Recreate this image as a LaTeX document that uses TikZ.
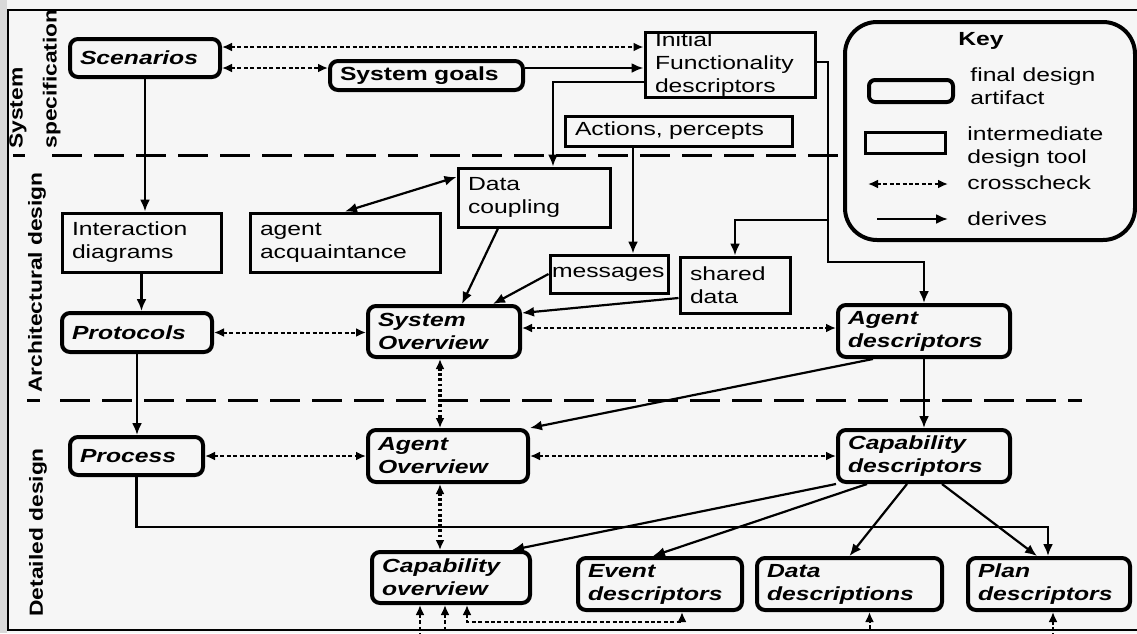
\documentclass[tikz,border=0pt]{standalone}
\usepackage{fontspec}
\setmainfont{Liberation Sans}[FakeStretch=1.3]
\newfontfamily\phasefont{Liberation Sans}[FakeStretch=1.2]
\usetikzlibrary{arrows.meta}
\newcommand\figfont{\fontsize{9.5}{11.5}\selectfont}

\begin{document}
\begin{tikzpicture}[x=0.5pt,y=-0.5pt,
  every node/.style={font=\figfont},
  box/.style={draw, line width=1.5pt, inner xsep=5pt, inner ysep=1pt, align=left},
  final/.style={box, line width=2pt, rounded corners=4pt, font=\figfont\bfseries\itshape},
  derive/.style={line width=1.1pt, -{Latex[length=6pt,width=5pt]}},
  cross/.style={line width=1pt, dash pattern=on 2pt off 1.2pt,
    {Latex[length=5pt,width=4.5pt]}-{Latex[length=5pt,width=4.5pt]}},
  vcross/.style={cross, line width=1.8pt, dash pattern=on 1.4pt off 1.2pt},
  phase/.style={font=\phasefont\fontsize{9.5}{17}\selectfont\bfseries, rotate=90, anchor=west, inner sep=0pt, align=left},
  sep/.style={line width=1.5pt, dash pattern=on 15pt off 6pt}]
\useasboundingbox (0,0) rectangle (1137,633);
\fill[gray!7] (0,0) rectangle (1137,633);
\fill[gray!30] (0,0) rectangle (7,633);
\draw[line width=1pt] (1145,10) -- (8,10) -- (8,630) -- (1145,630);

% phases
\node[phase] (ph1) at (35,149) {System\\specification};
\node[phase] (ph2) at (37,393) {Architectural design};
\node[phase] (ph3) at (38,617) {Detailed design};
\draw[line width=1.5pt] (13,155) -- (25,155);
\draw[line width=1.5pt] (27,400) -- (40,400);
\coordinate (s1) at (52,155);
\coordinate (s2) at (60,400);
\coordinate (s3) at (1082,400);

% key
\node[draw, line width=2pt, rounded corners=16pt, minimum width=145pt, minimum height=109pt] (key) at (990,131) {};
\node[font=\figfont\bfseries] (keyt) at (981,41) {Key};
\node[draw, line width=2pt, rounded corners=3pt, minimum width=42pt, minimum height=11pt] (kfin) at (911,91) {};
\node[anchor=west, align=left, inner sep=0pt] (kfint) at (970,86) {final design\\artifact};
\node[draw, line width=1.5pt, minimum width=40pt, minimum height=10.5pt] (kint) at (905,142.5) {};
\node[anchor=west, align=left, inner sep=0pt] (kintt) at (967,147) {intermediate\\design tool};
\node[anchor=west, inner sep=0pt] (kcrosst) at (967,183) {crosscheck};
\node[anchor=west, inner sep=0pt] (kdert) at (967,219) {derives};
\coordinate (kc1) at (868,184);
\coordinate (kc2) at (948,184);
\coordinate (kd1) at (877,219);
\coordinate (kd2) at (948,219);
\draw[cross] (kc1) -- (kc2);
\draw[derive] (kd1) -- (kd2);

\draw[sep] (s1) -- (s1 -| key.west);
\draw[sep] (s2) -- (s3);

% system specification
\node[final, text width=65pt, minimum height=19pt] (scen) at (145,58) {Scenarios};
\node[final, font=\figfont\bfseries, text width=86.5pt, minimum height=14.5pt] (goals) at (426.5,75.5) {System goals};
\node[box, text width=75pt, minimum height=32.5pt, inner ysep=0pt] (ifd) at (730,64.5) {Initial\\Functionality\\descriptors};
\node[box, text width=103.5pt, minimum height=15pt] (act) at (678.5,131) {Actions, percepts};

% architectural design
\node[box, text width=69.5pt, minimum height=29.5pt] (inter) at (141.5,242.5) {Interaction\\diagrams};
\node[box, text width=85pt, minimum height=29.5pt] (acq) at (345,242.5) {agent\\acquaintance};
\node[box, text width=66pt, minimum height=29.5pt] (coup) at (534,197.5) {Data\\coupling};
\node[box, inner xsep=1pt, text width=57pt, minimum height=19pt] (msg) at (609,274) {messages};
\node[box, text width=45pt, minimum height=28pt] (shd) at (735,285) {shared\\data};
\node[final, text width=65pt, minimum height=19.5pt] (prot) at (137,332.5) {Protocols};
\node[final, text width=66pt, minimum height=25.5pt] (sysov) at (444,331.5) {System\\Overview};
\node[final, text width=76pt, minimum height=26pt] (agdesc) at (924,331) {Agent\\descriptors};

% detailed design
\node[final, text width=56.5pt, minimum height=19pt] (proc) at (136.5,456) {Process};
\node[final, text width=70pt, minimum height=26pt] (agov) at (448,456) {Agent\\Overview};
\node[final, text width=76pt, minimum height=26pt] (capdesc) at (924,456) {Capability\\descriptors};
\node[final, text width=69pt, minimum height=25.5pt] (capov) at (451,577.5) {Capability\\overview};
\node[final, text width=72pt, minimum height=26pt] (evdesc) at (660,584) {Event\\descriptors};
\node[final, text width=82.5pt, minimum height=26pt] (datadesc) at (849.5,584) {Data\\descriptions};
\node[final, text width=71pt, minimum height=26pt] (plandesc) at (1049,584) {Plan\\descriptors};

\coordinate (fork) at (828,220);
\coordinate (elbow) at (828,262);
\coordinate (low) at (1048,527);
\coordinate (c1) at (575,622);
\coordinate (c2) at (650,630);
\coordinate (c3) at (700,642);

% derives
\draw[derive] (scen.south) -- (scen.south |- inter.north);
\draw[derive] ([yshift=3.75pt]goals.east) -- ([yshift=3.75pt]goals.east -| ifd.west);
\draw[derive] ([yshift=-8.75pt]ifd.west) -| ([xshift=9.5pt]coup.north);
\draw[derive] ([yshift=1.25pt]ifd.east) -| (elbow) -| (agdesc.north);
\draw[derive] (fork) -| (shd.north);
\draw[derive] ([xshift=12pt]msg.north |- act.south) -- ([xshift=12pt]msg.north);
\draw[derive] ([xshift=-18pt]coup.south) -- ([xshift=9pt]sysov.north);
\draw[derive] (msg.west) -- ([xshift=24.5pt]sysov.north);
\draw[derive] ([yshift=-6.5pt]shd.west) -- ([yshift=9.25pt]sysov.east);
\draw[derive, {Latex[length=6pt,width=5pt]}-{Latex[length=6pt,width=5pt]}] (acq.north) -- ([yshift=10.25pt]coup.west);
\draw[derive] (inter.south) -- (inter.south |- prot.north);
\draw[derive] (prot.south) -- (prot.south |- proc.north);
\draw[derive] (agdesc.south) -- (capdesc.north);
\draw[derive] ([xshift=-25.5pt]agdesc.south) -- (agov.north east);
\draw[derive] (capdesc.south west) -- ([xshift=30.5pt]capov.north);
\draw[derive] ([xshift=-28.5pt]capdesc.south) -- ([xshift=-3.5pt]evdesc.north);
\draw[derive] ([xshift=-8.5pt]capdesc.south) -- (datadesc.north);
\draw[derive] ([xshift=9pt]capdesc.south) -- ([xshift=-6pt]plandesc.north);
\draw[derive] (proc.south) |- (low) -- (low |- plandesc.north);

% crosschecks
\draw[cross] ([yshift=5.5pt]scen.east) -- ([yshift=5.5pt]scen.east -| ifd.west);
\draw[cross] ([yshift=-5pt]scen.east) -- ([yshift=-5pt]scen.east -| goals.west);
\draw[cross] (prot.east) -- (prot.east -| sysov.west);
\draw[cross] ([yshift=1.75pt]sysov.east) -- ([yshift=1.75pt]sysov.east -| agdesc.west);
\draw[vcross] ([xshift=-2pt]sysov.south) -- ([xshift=-2pt]sysov.south |- agov.north);
\draw[cross] (proc.east) -- (proc.east -| agov.west);
\draw[cross] (agov.east) -- (agov.east -| capdesc.west);
\draw[vcross] ([xshift=-4pt]agov.south) -- ([xshift=-4pt]agov.south |- capov.north);
\draw[cross] ([xshift=8pt]capov.south) |- (c1) -| ([xshift=11pt]evdesc.south);
\draw[cross] ([xshift=-3pt]capov.south) |- (c2) -| ([xshift=10pt]datadesc.south);
\draw[cross] ([xshift=-15.5pt]capov.south) |- (c3) -| ([xshift=2pt]plandesc.south);
\end{tikzpicture}
\end{document}
